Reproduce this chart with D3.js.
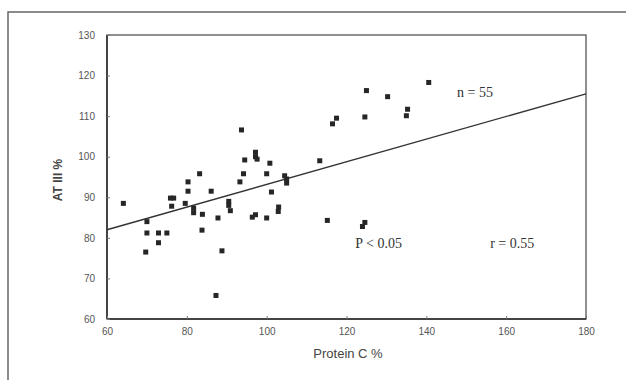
<!DOCTYPE html>
<html><head><meta charset="utf-8">
<script src="https://cdn.jsdelivr.net/npm/d3@7"></script>
<style>body{margin:0;background:#fff}svg{display:block}</style>
</head><body>
<svg id="c" width="626" height="380"></svg>
<script>
const protein = [64.1,83.2,80.3,80.3,86.1,75.9,76.7,76.2,79.6,81.7,81.7,83.9,83.8,70,70,72.9,75,72.9,69.7,87.3,
  93.7,97.2,97.2,97.6,94.5,100.8,94.2,93.3,100,104.5,105,105,101.2,90.5,90.5,90.9,87.8,96.4,97.2,100,103,102.9,88.8,
  140.6,125,130.3,135.3,135,124.6,117.5,116.5,113.3,115.2,124.6,124];
const at3 = [88.5,95.8,93.8,91.5,91.5,89.8,89.8,87.8,88.5,87.3,86.2,85.8,81.9,84,81.2,81.2,81.2,78.8,76.5,65.8,
  106.6,101.1,100,99.4,99.2,98.4,95.8,93.8,95.8,95.3,94.5,93.5,91.3,89,88,86.7,84.9,85.1,85.7,84.9,87.6,86.5,76.8,
  118.3,116.3,114.8,111.7,110.1,109.8,109.5,108.1,99,84.3,83.8,82.8];
const regX = [60,180];
const regY = [82,115.5];
const xTicks = [60,80,100,120,140,160,180];
const yTicks = [60,70,80,90,100,110,120,130];
const notes = [{t:"n = 55",x:147.7,y:114.8},{t:"P < 0.05",x:122.2,y:77.4},{t:"r = 0.55",x:156,y:77.4}];

const svg = d3.select("#c");
svg.append("rect").attr("x",8).attr("y",12).attr("width",640).attr("height",400)
  .attr("fill","none").attr("stroke","#666").attr("stroke-width",1.5);

const x = d3.scaleLinear().domain([60,180]).range([107,586]);
const y = d3.scaleLinear().domain([60,130]).range([319,35]);

svg.append("rect").attr("x",107).attr("y",35).attr("width",479).attr("height",284)
  .attr("fill","none").attr("stroke","#555").attr("stroke-width",1.3);
svg.append("line").attr("x1",107).attr("x2",107).attr("y1",35).attr("y2",319)
  .attr("stroke","#444").attr("stroke-width",2);
svg.append("line").attr("x1",107).attr("x2",586).attr("y1",319).attr("y2",319)
  .attr("stroke","#444").attr("stroke-width",2);

const xa = svg.append("g").attr("transform","translate(0,319)")
  .call(d3.axisBottom(x).tickValues(xTicks).tickSize(-3).tickPadding(9).tickFormat(d3.format("d")));
const ya = svg.append("g").attr("transform","translate(107,0)")
  .call(d3.axisLeft(y).tickValues(yTicks).tickSize(-3).tickPadding(12).tickFormat(d3.format("d")));
[xa,ya].forEach(a=>{
  a.select(".domain").remove();
  a.selectAll("line").attr("stroke","#777");
  a.selectAll("text").attr("font-family","Arial, Liberation Sans, sans-serif").attr("font-size",10).attr("fill","#555");
});

svg.append("line").attr("x1",x(regX[0])).attr("y1",y(regY[0])).attr("x2",x(regX[1])).attr("y2",y(regY[1]))
  .attr("stroke","#333").attr("stroke-width",1.4);

svg.append("g").selectAll("rect").data(protein.map((p,i)=>[p,at3[i]])).join("rect")
  .attr("x",d=>x(d[0])-2.5).attr("y",d=>y(d[1])-2.5).attr("width",5).attr("height",5)
  .attr("fill","#262626");

svg.append("g").selectAll("text").data(notes).join("text")
  .attr("x",d=>x(d.x)).attr("y",d=>y(d.y)).text(d=>d.t)
  .attr("font-family","Liberation Serif, Times New Roman, serif").attr("font-size",14).attr("fill","#333");

svg.append("text").attr("x",348).attr("y",358).attr("text-anchor","middle").text("Protein C %")
  .attr("font-family","Arial, Liberation Sans, sans-serif").attr("font-size",13).attr("fill","#444");
svg.append("text").attr("transform","translate(62,180) rotate(-90)").attr("text-anchor","middle").text("AT III %")
  .attr("font-family","Arial, Liberation Sans, sans-serif").attr("font-size",12).attr("font-weight","bold").attr("fill","#444");
</script>
</body></html>
